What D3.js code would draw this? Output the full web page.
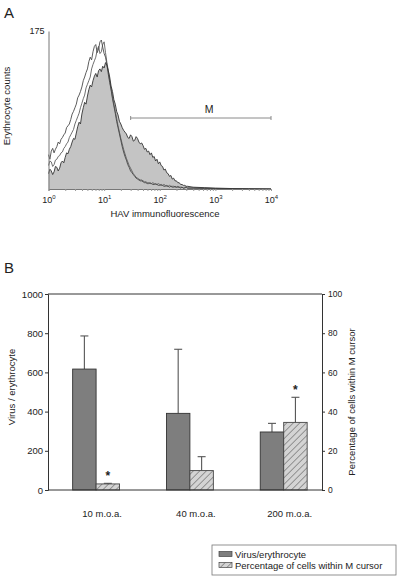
<!DOCTYPE html>
<html><head><meta charset="utf-8">
<script src="https://cdn.jsdelivr.net/npm/d3@7"></script>
<style>body{margin:0;background:#fff}svg{display:block;font-family:"Liberation Sans",Arial,sans-serif}</style>
</head><body>
<svg id="c" width="400" height="577"></svg>
<script>
// ---------- Panel A data: log10 fluorescence channel and erythrocyte counts ----------
const logChannel = [0,0.025,0.05,0.075,0.1,0.125,0.15,0.175,0.2,0.225,0.25,0.275,0.3,0.325,0.35,0.375,
  0.4,0.425,0.45,0.475,0.5,0.525,0.55,0.575,0.6,0.625,0.65,0.675,0.7,0.725,0.75,0.775,
  0.8,0.825,0.85,0.875,0.9,0.925,0.95,0.975,1.0,1.025,1.05,1.075,1.1,1.125,1.15,1.175,
  1.2,1.225,1.25,1.275,1.3,1.325,1.35,1.375,1.4,1.425,1.45,1.475,1.5,1.525,1.55,1.575,
  1.6,1.625,1.65,1.675,1.7,1.725,1.75,1.775,1.8,1.825,1.85,1.875,1.9,1.925,1.95,1.975,
  2.0,2.025,2.05,2.075,2.1,2.125,2.15,2.175,2.2,2.225,2.25,2.275,2.3,2.325,2.35,2.375,
  2.4,2.425,2.45,2.475,2.5,2.6,2.8,3.0,3.3,3.6,4.0];
const countsHAV = [17,22,20,16,19,25,24,20,23,29,31,29,35,40,39,44,
  47,52,56,55,62,69,74,72,83,90,96,94,103,110,115,113,
  120,125,128,124,131,133,130,136,134,140,137,131,124,114,108,99,
  94,86,82,75,72,68,65,63,61,57,56,60,58,53,54,58,
  56,52,50,51,48,44,45,41,42,38,40,35,36,31,33,28,
  30,26,25,21,22,18,17,14,15,11,12,9,9,7,7,5,
  5,4,4,3,3,2,1.5,1,0.5,0.3,0];
const countsCtrl1 = [38,33,42,45,40,44,47,52,50,55,57,60,62,68,70,72,
  77,83,86,90,94,101,104,108,113,120,124,129,133,141,146,143,
  152,158,160,151,155,163,165,157,150,146,138,127,118,110,100,92,
  84,75,68,61,54,47,41,36,32,27,24,20,18,16,14,12,
  11,10,9,9,8,7,7,6,6,7,6,5,5,6,5,4,
  4,5,4,3,3,4,3,2,3,2,2,3,2,2,2,1,
  2,1,1,2,1,1,0.5,0.5,0,0,0];
const countsCtrl2 = [26,31,30,25,27,32,33,36,37,40,41,45,47,50,52,57,
  60,63,66,72,76,80,84,90,95,100,104,112,116,120,124,133,
  138,142,146,154,158,150,152,160,163,151,140,131,120,111,102,94,
  86,78,70,63,56,50,44,39,34,30,26,23,20,17,15,13,
  12,11,10,10,9,8,8,7,7,6,6,7,6,5,5,6,
  5,4,4,5,4,3,3,4,3,3,3,2,2,3,2,2,
  2,1,2,2,1,1,1,0.5,0.3,0,0];
const decadeTicks = [1,10,100,1000,10000];
const cursorM = [30, 10000];

// ---------- Panel B data ----------
const categories = ["10 m.o.a.","40 m.o.a.","200 m.o.a."];
const virusPerEry = [617,391,296];
const virusErr = [786,718,340];
const pctCells = [3.1,9.9,34.5];
const pctErr = [3.4,17.0,47.3];
const significant = [true,false,true];
const leftTicks = [0,200,400,600,800,1000];
const rightTicks = [0,20,40,60,80,100];
const legendLabels = ["Virus/erythrocyte","Percentage of cells within M cursor"];

const svg = d3.select("#c");
const axisCol = "#333";

// hatch pattern
const defs = svg.append("defs");
const pat = defs.append("pattern").attr("id","hatch").attr("patternUnits","userSpaceOnUse")
  .attr("width",4.6).attr("height",4.6).attr("patternTransform","rotate(45)");
pat.append("rect").attr("width",4.6).attr("height",4.6).attr("fill","#d4d4d4");
pat.append("line").attr("x1",0).attr("y1",0).attr("x2",0).attr("y2",4.6)
  .attr("stroke","#6e6e6e").attr("stroke-width",1.3);

// ================= PANEL A =================
svg.append("text").attr("x",4).attr("y",18).attr("font-size",15).attr("fill","#222").text("A");

const xA = d3.scaleLog().domain([1,10000]).range([48.5,271]);
const yA = d3.scaleLinear().domain([0,175]).range([189,31]);

const ptsHAV = logChannel.map((l,i)=>[Math.pow(10,l),countsHAV[i]]);
const ptsC1 = logChannel.map((l,i)=>[Math.pow(10,l),countsCtrl1[i]]);
const ptsC2 = logChannel.map((l,i)=>[Math.pow(10,l),countsCtrl2[i]]);

const area = d3.area().x(d=>xA(d[0])).y0(yA(0)).y1(d=>yA(d[1]));
const line = d3.line().x(d=>xA(d[0])).y(d=>yA(d[1]));

svg.append("path").attr("d",area(ptsHAV)).attr("fill","#c4c4c4");
svg.append("path").attr("d",line(ptsC2)).attr("fill","none").attr("stroke","#5e5e5e").attr("stroke-width",0.9);
svg.append("path").attr("d",line(ptsC1)).attr("fill","none").attr("stroke","#4a4a4a").attr("stroke-width",0.9);
svg.append("path").attr("d",line(ptsHAV)).attr("fill","none").attr("stroke","#333").attr("stroke-width",0.9);

// x axis A
const minor = [];
decadeTicks.slice(0,-1).forEach(d=>{for(let k=2;k<10;k++) minor.push(d*k);});
const gxA = svg.append("g").attr("transform",`translate(0,${yA(0)})`)
  .call(d3.axisBottom(xA).tickValues(decadeTicks.concat(minor)).tickSize(2).tickFormat(""));
gxA.select(".domain").attr("stroke","#777");
gxA.selectAll(".tick line").attr("stroke","#999");
decadeTicks.forEach((t,i)=>{
  const tx = svg.append("text").attr("x",xA(t)+0.5).attr("y",203).attr("font-size",9).attr("fill","#222")
    .attr("text-anchor","middle");
  tx.append("tspan").text("10");
  tx.append("tspan").attr("font-size",6).attr("dy",-4).text(String(i));
});
svg.append("text").attr("x",165).attr("y",217).attr("text-anchor","middle").attr("font-size",9.5)
  .attr("fill","#222").text("HAV immunofluorescence");

// y axis A
const gyA = svg.append("g").attr("transform",`translate(${xA(1)},0)`)
  .call(d3.axisLeft(yA).tickValues([175]).tickSize(0).tickPadding(4));
gyA.select(".domain").attr("stroke","#777");
gyA.selectAll("text").attr("font-size",9).attr("fill","#222").attr("font-family","Liberation Sans, Arial");
svg.append("text").attr("transform","translate(10,106) rotate(-90)").attr("text-anchor","middle")
  .attr("font-size",9.5).attr("fill","#222").text("Erythrocyte counts");

// M cursor
const yM = 118;
svg.append("line").attr("x1",xA(cursorM[0])).attr("x2",xA(cursorM[1])).attr("y1",yM).attr("y2",yM)
  .attr("stroke","#8a8a8a").attr("stroke-width",1);
cursorM.forEach(v=>svg.append("line").attr("x1",xA(v)).attr("x2",xA(v)).attr("y1",yM-2).attr("y2",yM+2)
  .attr("stroke","#8a8a8a"));
svg.append("text").attr("x",209).attr("y",113).attr("text-anchor","middle").attr("font-size",10.5)
  .attr("fill","#222").text("M");

// ================= PANEL B =================
svg.append("text").attr("x",4).attr("y",273).attr("font-size",15).attr("fill","#222").text("B");

const L=48, R=322, T=294, Bt=490;
const xB = d3.scaleBand().domain(categories).range([49.2,330.6]).paddingInner(0.5).paddingOuter(0.25);
const yL = d3.scaleLinear().domain([0,1000]).range([Bt,T]);
const yR = d3.scaleLinear().domain([0,100]).range([Bt,T]);

const bw = xB.bandwidth()/2;
categories.forEach((c,i)=>{
  const x0 = xB(c);
  const cx1 = x0 + bw/2, cx2 = x0 + bw*1.5;
  svg.append("line").attr("x1",cx1).attr("x2",cx1).attr("y1",yL(virusPerEry[i])).attr("y2",yL(virusErr[i]))
    .attr("stroke","#555").attr("stroke-width",1.1);
  svg.append("line").attr("x1",cx1-4).attr("x2",cx1+4).attr("y1",yL(virusErr[i])).attr("y2",yL(virusErr[i]))
    .attr("stroke","#555").attr("stroke-width",1.1);
  svg.append("line").attr("x1",cx2).attr("x2",cx2).attr("y1",yR(pctCells[i])).attr("y2",yR(pctErr[i]))
    .attr("stroke","#555").attr("stroke-width",1.1);
  svg.append("line").attr("x1",cx2-4).attr("x2",cx2+4).attr("y1",yR(pctErr[i])).attr("y2",yR(pctErr[i]))
    .attr("stroke","#555").attr("stroke-width",1.1);
  svg.append("rect").attr("x",x0).attr("y",yL(virusPerEry[i])).attr("width",bw)
    .attr("height",yL(0)-yL(virusPerEry[i])).attr("fill","#7e7e7e").attr("stroke","#333").attr("stroke-width",0.9);
  svg.append("rect").attr("x",x0+bw).attr("y",yR(pctCells[i])).attr("width",bw)
    .attr("height",yR(0)-yR(pctCells[i])).attr("fill","url(#hatch)").attr("stroke","#444").attr("stroke-width",0.9);
  if(significant[i]){
    svg.append("text").attr("x",cx2).attr("y",yR(pctErr[i])-3).attr("text-anchor","middle")
      .attr("font-size",12).attr("font-weight","bold").attr("fill","#222").text("*");
  }
  svg.append("text").attr("x",cx1+bw/2+6).attr("y",517).attr("text-anchor","middle")
    .attr("font-size",9.5).attr("fill","#222").text(c);
});

// frame
svg.append("line").attr("x1",L).attr("x2",R).attr("y1",T).attr("y2",T).attr("stroke",axisCol);
svg.append("line").attr("x1",L).attr("x2",R).attr("y1",Bt).attr("y2",Bt).attr("stroke",axisCol);
const gL = svg.append("g").attr("transform",`translate(${L},0)`)
  .call(d3.axisLeft(yL).tickValues(leftTicks).tickFormat(d3.format("d")).tickSize(3).tickPadding(2));
const gR = svg.append("g").attr("transform",`translate(${R},0)`)
  .call(d3.axisRight(yR).tickValues(rightTicks).tickFormat(d3.format("d")).tickSize(3).tickPadding(3));
[gL,gR].forEach(g=>{
  g.select(".domain").attr("stroke",axisCol);
  g.selectAll(".tick line").attr("stroke",axisCol);
  g.selectAll("text").attr("fill","#222").attr("font-family","Liberation Sans, Arial");
});
gL.selectAll("text").attr("font-size",9.5);
gR.selectAll("text").attr("font-size",8.5);

svg.append("text").attr("transform","translate(15,387) rotate(-90)").attr("text-anchor","middle")
  .attr("font-size",9.5).attr("fill","#222").text("Virus / erythrocyte");
svg.append("text").attr("transform","translate(355,402) rotate(-90)").attr("text-anchor","middle")
  .attr("font-size",9.5).attr("fill","#222").text("Percentage of cells within M cursor");

// legend
const lg = svg.append("g");
lg.append("rect").attr("x",212).attr("y",545).attr("width",184).attr("height",30)
  .attr("fill","#fff").attr("stroke","#777").attr("stroke-width",0.8);
const fills = ["#7e7e7e","url(#hatch)"];
legendLabels.forEach((t,i)=>{
  const yy = 554 + i*11;
  lg.append("rect").attr("x",219).attr("y",yy-2.5).attr("width",13).attr("height",5)
    .attr("fill",fills[i]).attr("stroke","#444").attr("stroke-width",0.7);
  lg.append("text").attr("x",235).attr("y",yy+3.5).attr("font-size",9.5).attr("fill","#222").text(t);
});
</script>
</body></html>
